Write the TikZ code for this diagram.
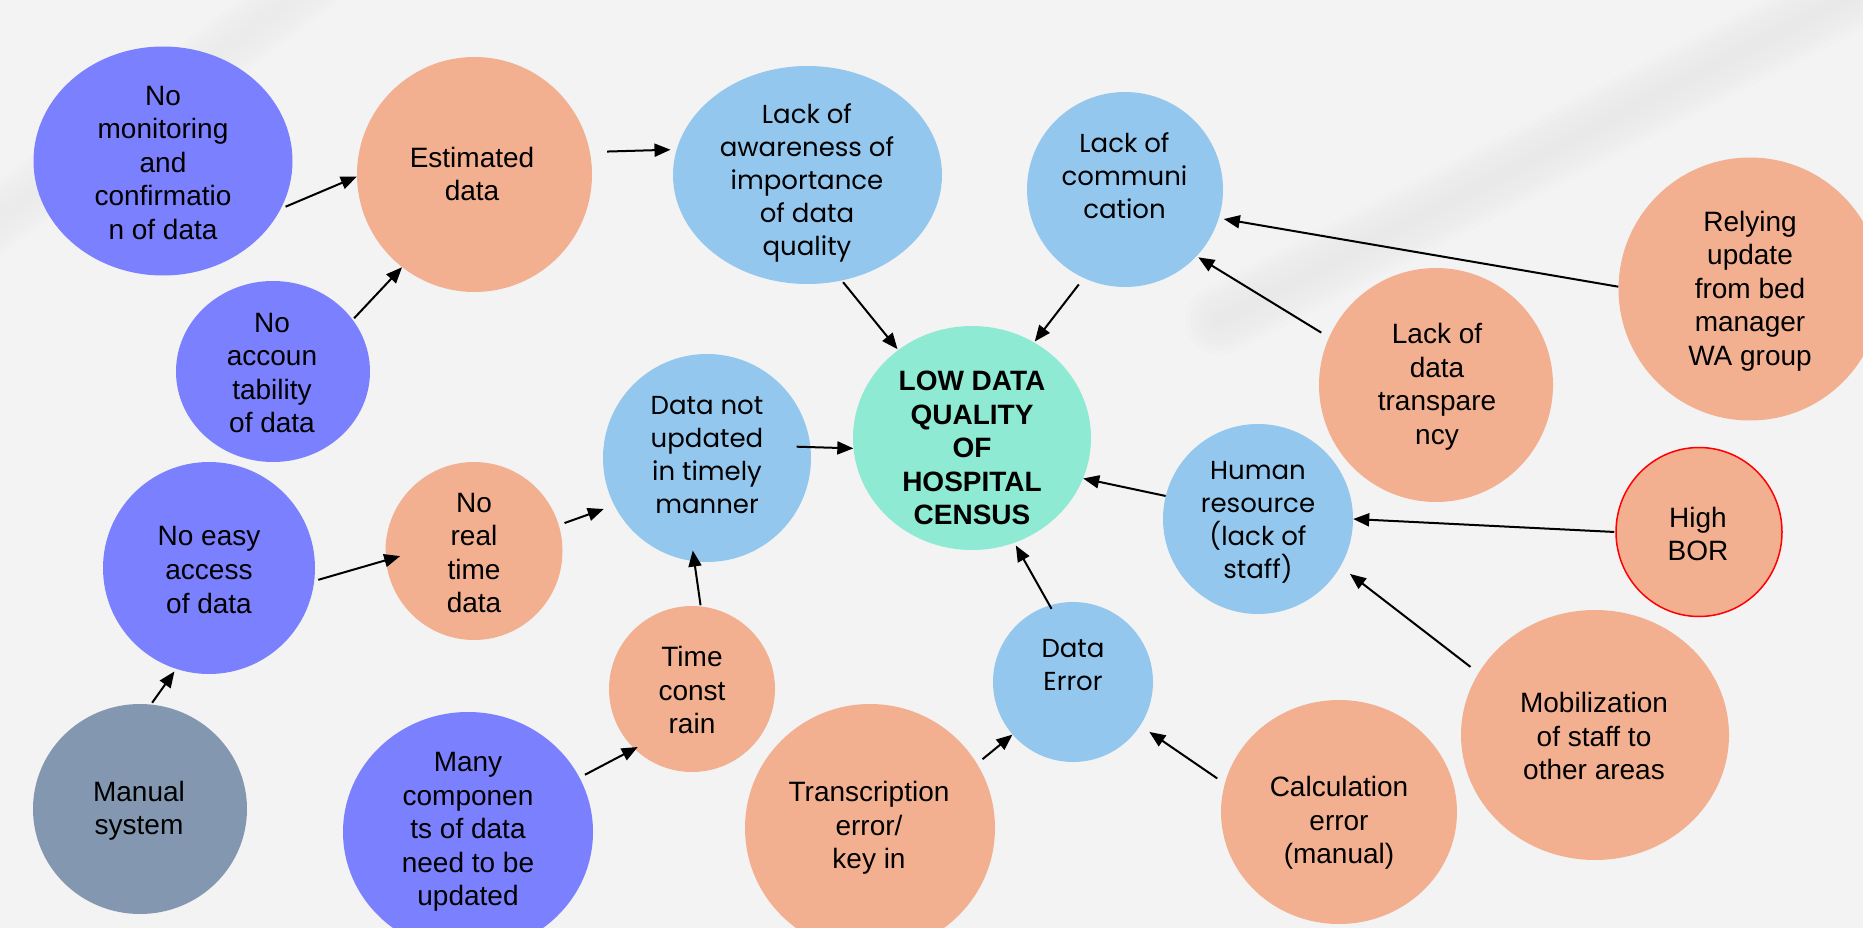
\documentclass[tikz,border=0pt]{standalone}
\usepackage{fontspec}
\setmainfont{Liberation Sans}
\newfontfamily\gothicfont{Poppins}
\usetikzlibrary{arrows.meta, shapes.geometric}

\definecolor{bgray}{HTML}{F3F3F3}
\definecolor{shadegray}{HTML}{DCDCDC}
\definecolor{cpurple}{HTML}{7B80FE}
\definecolor{csalmon}{HTML}{F2B091}
\definecolor{cblue}{HTML}{93C7EE}
\definecolor{cgreen}{HTML}{8FEAD3}
\definecolor{cslate}{HTML}{8398B0}

\newcommand{\gothic}{\gothicfont\fontsize{26}{33}\selectfont}

\tikzset{
  bubble/.style={ellipse, draw=none, inner sep=0pt},
  lbl/.style={align=center, inner sep=0pt, font=\fontsize{28}{33.5}\selectfont},
  glbl/.style={align=center, inner sep=0pt, font=\gothic},
  cause/.style={-{Triangle[length=16pt,width=13pt]}, line width=2pt},
}

\begin{document}
\begin{tikzpicture}[x=1pt,y=-1pt]
    \useasboundingbox (0,0) rectangle (1863,928);
    \clip (0,0) rectangle (1863,928);

    % Background with soft light band
    \fill[bgray] (0,0) rectangle (1863,928);
    \foreach \w in {10,20,...,120}
        \draw[white, opacity=0.08, line width=\w pt, line cap=round, line join=round] (1000,-60) -- (1250,170) -- (1500,50) -- (1750,-60);
    \foreach \w in {10,20,...,80}
        \draw[white, opacity=0.07, line width=\w pt, line cap=round] (-60,20) -- (200,15) -- (700,-15) -- (1300,-15);
    \foreach \w in {10,20,...,70}
        \draw[shadegray, opacity=0.06, line width=\w pt, line cap=round] (1220,320) -- (1900,-30);
    \foreach \w in {10,20,...,60}
        \draw[shadegray, opacity=0.05, line width=\w pt, line cap=round] (-30,240) -- (330,-30);

    % Ellipses
    \node[bubble, fill=cpurple, minimum width=259pt, minimum height=229pt] (nomon) at (163,161) {};
    \node[bubble, fill=csalmon, minimum width=235pt, minimum height=235pt] (estdata) at (474.5,174.5) {};
    \node[bubble, fill=cpurple, minimum width=194pt, minimum height=181pt] (noacc) at (273,371.5) {};
    \node[bubble, fill=cblue, minimum width=269pt, minimum height=218pt] (aware) at (807.5,175) {};
    \node[bubble, fill=cblue, minimum width=196pt, minimum height=195pt] (comm) at (1125,189.5) {};
    \node[bubble, fill=cgreen, minimum width=238pt, minimum height=224pt] (lowdq) at (972,438) {};
    \node[bubble, fill=cblue, minimum width=208pt, minimum height=208pt] (notupd) at (707,458) {};
    \node[bubble, fill=cpurple, minimum width=212pt, minimum height=212pt] (noeasy) at (209,568) {};
    \node[bubble, fill=csalmon, minimum width=177pt, minimum height=178pt] (norealt) at (474,551) {};
    \node[bubble, fill=cslate, minimum width=214pt, minimum height=210pt] (manual) at (140,809) {};
    \node[bubble, fill=cpurple, minimum width=250pt, minimum height=240pt] (manycomp) at (468,832) {};
    \node[bubble, fill=csalmon, minimum width=166pt, minimum height=166pt] (timec) at (692,689) {};
    \node[bubble, fill=csalmon, minimum width=250pt, minimum height=248pt] (transc) at (870,828) {};
    \node[bubble, fill=cblue, minimum width=160pt, minimum height=160pt] (dataerr) at (1073,682) {};
    \node[bubble, fill=cblue, minimum width=190pt, minimum height=190pt] (humres) at (1258,519) {};
    \node[bubble, fill=csalmon, minimum width=234pt, minimum height=234pt] (transp) at (1436,385) {};
    \node[bubble, fill=csalmon, minimum width=263pt, minimum height=263pt] (relying) at (1750,289) {};
    \node[bubble, fill=csalmon, draw=red, line width=1.5pt, minimum width=166pt, minimum height=169pt] (highbor) at (1699,532) {};
    \node[bubble, fill=csalmon, minimum width=268pt, minimum height=250pt] (mobil) at (1595,735) {};
    \node[bubble, fill=csalmon, minimum width=236pt, minimum height=224pt] (calcerr) at (1339,812) {};

    % Texts
    \node[lbl] (nomon-t) at (163,163) {No\\monitoring\\and\\confirmatio\\n of data};
    \node[lbl] (estdata-t) at (472,174) {Estimated\\data};
    \node[lbl] (noacc-t) at (272,373) {No\\accoun\\tability\\of data};
    \node[glbl] (aware-t) at (807,183) {Lack of\\awareness of\\importance\\of data\\quality};
    \node[glbl] (comm-t) at (1124.5,176) {Lack of\\communi\\cation};
    \node[lbl, font=\fontsize{28}{33.5}\selectfont\bfseries] (lowdq-t) at (972,448) {LOW DATA\\QUALITY\\OF\\HOSPITAL\\CENSUS};
    \node[glbl] (notupd-t) at (707,455) {Data not\\updated\\in timely\\manner};
    \node[lbl] (noeasy-t) at (209,570) {No easy\\access\\of data};
    \node[lbl] (norealt-t) at (474,553) {No\\real\\time\\data};
    \node[lbl] (manual-t) at (139,811) {Manual\\system};
    \node[lbl] (manycomp-t) at (468,832) {Many\\componen\\ts of data\\need to be\\updated};
    \node[lbl] (timec-t) at (692,690) {Time\\const\\rain};
    \node[lbl] (transc-t) at (869,828) {Transcription\\error/\\key in};
    \node[glbl] (dataerr-t) at (1073,665) {Data\\Error};
    \node[glbl] (humres-t) at (1258,522) {Human\\resource\\(lack of\\staff)};
    \node[lbl] (transp-t) at (1437,387) {Lack of\\data\\transpare\\ncy};
    \node[lbl] (relying-t) at (1750,291) {Relying\\update\\from bed\\manager\\WA group};
    \node[lbl] (highbor-t) at (1698,534) {High\\BOR};
    \node[lbl] (mobil-t) at (1594,736) {Mobilization\\of staff to\\other areas};
    \node[lbl] (calcerr-t) at (1339,823) {Calculation\\error\\(manual)};

    % Cause arrows
    \draw[cause, shorten <=5pt] (nomon.-22) -- (estdata.181);
    \draw[cause, shorten <=2pt] (noacc.33) -- (estdata.232);
    \draw[cause, shorten <=17pt, shorten >=6pt] (estdata.11) -- (aware.169);
    \draw[cause, shorten <=2pt, shorten >=1pt] (aware.-72) -- (lowdq.130);
    \draw[cause, shorten <=8pt, shorten >=1pt] (comm.245) -- (lowdq.57);
    \draw[cause, shorten <=-14pt] (notupd.6) -- (lowdq.185);
    \draw[cause, shorten <=4pt, shorten >=-15pt] (noeasy.-7.5) -- (norealt.186);
    \draw[cause, shorten <=6pt, shorten >=11pt] (norealt.17) -- (notupd.207.5);
    \draw[cause, shorten <=2pt, shorten >=3pt] (manual.84.5) -- (noeasy.252);
    \draw[cause, shorten <=6pt, shorten >=-4pt] (manycomp.26.5) -- (timec.226);
    \draw[cause, shorten <=1pt, shorten >=-11pt] (timec.84) -- (notupd.263);
    \draw[cause, shorten <=7pt] (transc.31) -- (dataerr.221);
    \draw[cause, shorten <=9pt, shorten >=11pt] (calcerr.166.6) -- (dataerr.-33);
    \draw[cause, shorten <=-4pt, shorten >=3pt] (dataerr.107) -- (lowdq.-68.5);
    \draw[cause] (humres.166.5) -- (lowdq.-20.7);
    \draw[cause, shorten <=1pt] (highbor.180) -- (humres.0);
    \draw[cause, shorten <=10pt, shorten >=12pt] (mobil.152.4) -- (humres.-30.5);
    \draw[cause, shorten <=9pt, shorten >=2pt] (transp.156) -- (comm.-43.5);
    \draw[cause, shorten >=5pt] (relying.179.3) -- (comm.-17);

\end{tikzpicture}
\end{document}
